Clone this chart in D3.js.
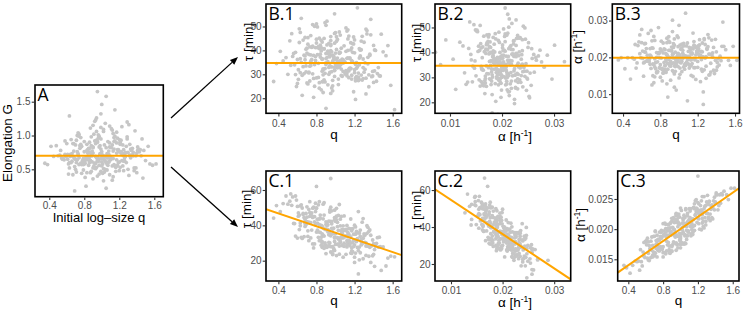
<!DOCTYPE html>
<html><head><meta charset="utf-8">
<script src="https://cdn.jsdelivr.net/npm/d3@7"></script>
<style>body{margin:0;background:#fff}svg{display:block}</style>
</head><body>
<svg id="chart" width="743" height="313"></svg>
<script>
// ---- data (read/estimated from the reference picture) ----
const q = [0.98,1.12,0.85,1.03,0.71,1.25,0.93,1.08,0.62,1.17,0.96,0.88,1.31,1.01,0.79,1.14,0.91,1.22,0.67,1.05,
0.94,1.19,0.83,1.36,0.99,0.74,1.09,0.87,1.27,0.58,1.02,0.95,1.15,0.81,1.43,0.90,1.06,0.76,1.20,0.97,
1.11,0.69,1.00,1.29,0.86,0.53,1.16,0.92,1.04,0.78,1.24,0.99,0.84,1.39,0.95,1.07,0.65,1.13,0.89,1.01,
0.82,1.21,0.97,0.73,1.10,0.90,1.33,1.04,0.60,0.96,1.18,0.87,1.02,0.77,1.26,0.93,1.48,0.99,0.70,1.08,
1.14,0.86,0.45,1.03,0.95,1.23,0.80,1.12,0.91,1.35,0.75,1.00,1.17,0.88,0.63,1.06,0.94,1.28,0.84,1.09,
0.98,0.72,1.20,1.01,0.89,1.41,0.79,1.13,0.96,0.56,1.07,0.93,1.25,0.85,1.04,0.68,1.16,0.99,1.32,0.82,
1.10,0.92,0.76,1.19,1.03,0.87,1.53,0.95,1.11,0.64,1.00,1.22,0.83,1.08,0.97,0.74,1.30,0.90,1.15,0.38,
1.05,0.81,1.24,0.94,1.37,0.86,1.02,0.71,1.18,0.99,0.89,1.12,0.78,1.45,0.93,1.06,0.66,1.21,0.97,1.01,
0.84,1.16,0.91,1.27,0.75,1.04,0.96,1.58,0.88,1.09,0.61,1.13,0.98,0.80,1.23,1.00,0.92,0.50,1.17,1.07,
0.94,1.34,0.83,1.02,0.73,1.20,0.90,1.11,0.99,0.86,1.40,0.77,1.05,0.95,1.26,0.69,1.14,0.87,1.00,1.62,
0.66,1.28,0.88,1.36,0.72,1.18,0.59,1.07,0.81,1.41,0.69,1.23,0.92,0.52,1.32,0.77,1.14,0.63,1.46,0.85,
1.25,0.70,1.09,0.57,1.38,0.80,1.20,0.67,0.97,1.33,0.74,1.16,0.61,1.29,0.89,1.44,0.71,1.03,0.55,1.22,
0.79,1.35,0.64,1.12,0.86,1.50,0.73,1.27,0.93,0.48,1.19,0.68,1.31,0.82,1.06,0.60,1.39,0.76,1.24,0.90,
1.30,0.62,1.15,0.78,1.42,0.87,0.54,1.21,0.70,1.34,0.95,0.65,1.26,0.83,1.55,0.74,1.10,0.42,1.37,0.99,
0.68,1.17,0.85,1.29,0.58,1.40,0.76,1.08,0.63,1.32,0.90,1.21,0.72,1.47,0.80,1.13,0.35,1.25,0.94,1.05];

const elongG = [0.72,0.55,0.81,0.64,0.93,0.48,0.69,0.77,0.58,1.05,0.62,0.85,0.41,0.71,0.66,0.97,0.53,0.74,0.88,0.60,
0.67,0.79,0.45,0.70,1.12,0.57,0.83,0.63,0.75,0.92,0.51,0.68,0.99,0.59,0.76,0.36,0.73,0.87,0.61,0.65,
0.82,0.54,0.71,0.95,0.63,0.78,0.47,1.21,0.69,0.58,0.86,0.66,0.74,0.52,0.91,0.70,0.60,1.03,0.77,0.44,
0.68,0.89,0.56,0.73,0.64,1.15,0.80,0.50,0.70,0.62,0.96,0.75,0.33,0.84,0.67,0.59,0.78,1.32,0.65,0.72,
0.57,0.81,0.69,0.46,0.90,0.63,0.76,1.08,0.55,0.71,0.85,0.61,0.74,0.98,0.52,0.67,1.26,0.60,0.79,0.42,
0.73,0.64,0.94,0.58,0.70,0.83,0.49,0.77,1.01,0.66,0.56,0.88,0.62,0.75,1.18,0.68,0.53,0.80,0.71,0.25,
0.65,0.92,0.59,0.78,0.69,0.45,0.84,0.63,1.10,0.72,0.55,0.76,0.87,0.61,0.99,0.67,0.50,0.74,1.38,0.57,
0.82,0.64,0.71,0.93,0.52,0.68,1.06,0.60,0.79,0.47,0.75,0.86,0.63,0.70,1.23,0.58,0.73,0.90,0.43,0.66,
0.77,0.54,1.02,0.69,0.81,0.62,0.96,0.56,0.72,1.14,0.65,0.39,0.85,0.61,0.74,1.46,0.59,0.70,0.89,0.67,
0.53,0.78,0.64,1.09,0.71,0.48,0.83,0.66,0.95,0.60,0.74,0.57,1.58,1.65,0.69,0.18,0.91,0.63,0.76,0.58,
0.62,0.84,0.47,0.75,1.00,0.56,0.69,0.91,0.38,0.78,0.66,1.13,0.52,0.71,0.87,0.44,0.80,0.60,0.95,0.68,
0.73,0.50,0.89,0.64,1.07,0.58,0.76,0.42,0.83,0.67,0.99,0.54,0.72,1.20,0.61,0.79,0.46,0.86,0.65,0.93,
0.57,0.81,0.69,0.34,0.90,0.63,1.04,0.74,0.51,0.85,0.60,0.77,1.16,0.66,0.49,0.88,0.70,0.97,0.55,0.82,
0.75,0.43,0.92,0.61,0.80,1.11,0.67,0.53,0.86,0.71,0.40,0.94,0.63,0.78,0.58,1.02,0.69,0.84,0.48,0.73,
0.88,0.64,0.56,0.98,0.72,0.45,0.83,0.61,1.29,0.70,0.52,0.87,0.76,0.37,0.91,0.66,0.59,0.79,1.06,0.22];

const tauB = [36.2,29.4,41.1,33.6,45.3,27.8,38.5,31.2,49.0,35.7,24.3,40.6,32.1,43.8,37.4,28.6,52.2,34.9,30.3,39.1,
33.3,42.7,26.5,37.9,31.6,46.2,35.0,22.4,40.3,29.9,36.8,44.1,32.6,38.2,27.1,50.5,34.4,41.8,30.7,35.5,
39.6,31.0,47.4,28.2,36.3,33.8,43.2,25.6,38.8,34.1,30.5,55.3,37.2,29.3,42.5,35.9,21.2,40.0,32.4,45.7,
34.6,27.3,38.0,41.5,30.1,36.6,48.3,33.0,26.2,39.4,35.2,31.8,44.6,20.4,37.7,32.9,46.8,29.1,40.9,36.0,
31.4,43.5,35.6,28.0,39.9,33.2,51.1,30.6,37.0,24.8,41.3,34.3,29.6,45.0,36.5,32.2,38.3,27.6,42.2,35.3,
37.5,30.9,44.4,33.7,26.8,40.2,35.8,48.6,31.1,38.7,29.2,42.9,34.0,23.5,39.3,36.1,32.5,47.1,28.4,41.6,
35.1,39.7,30.2,45.6,33.4,27.0,37.8,42.0,31.5,53.4,36.4,29.0,40.8,34.7,25.2,38.1,43.4,15.8,36.9,34.5,
33.9,41.2,28.8,37.3,46.5,31.3,35.4,26.0,39.2,43.0,30.4,36.7,50.1,32.8,38.6,29.5,44.3,34.2,27.5,40.4,
38.4,32.3,42.3,29.7,36.2,47.7,33.1,25.4,40.7,35.1,31.9,44.8,37.6,28.5,57.8,34.5,39.5,30.0,41.0,36.3,
30.8,37.1,45.1,32.7,27.2,39.0,34.8,49.4,31.7,36.5,42.1,28.3,35.7,22.0,40.1,33.5,46.0,29.8,38.9,15.2,
33.2,45.9,27.7,38.4,30.6,42.8,24.9,36.1,49.8,31.4,40.5,28.1,35.3,44.0,21.8,37.9,32.2,47.5,29.4,39.8,
36.8,26.4,41.9,34.0,29.0,44.7,31.9,38.0,23.1,46.9,33.7,40.2,27.9,36.4,51.6,30.3,42.6,25.7,37.5,32.5,
41.2,29.8,35.0,48.1,26.9,39.4,33.4,43.9,30.0,37.0,22.7,45.4,34.8,28.7,40.9,36.2,31.2,50.8,27.4,38.7,
30.9,43.3,36.6,25.0,40.0,32.3,47.0,28.5,38.9,34.4,45.8,29.6,37.3,24.2,42.0,35.5,31.0,39.6,53.0,33.0,
37.7,28.0,44.2,32.8,39.2,26.6,41.5,35.9,30.7,48.9,34.1,19.5,38.3,29.3,43.1,36.9,27.0,40.7,33.6,46.4];

const alphaB = [.0203,.0176,.0221,.0189,.0245,.0162,.0208,.0231,.0149,.0196,.0214,.0183,.0262,.0171,.0199,.0226,.0138,.0205,.0190,.0238,
.0185,.0217,.0158,.0201,.0229,.0174,.0193,.0252,.0166,.0210,.0187,.0119,.0223,.0198,.0179,.0241,.0204,.0160,.0213,.0192,
.0227,.0181,.0206,.0143,.0195,.0235,.0172,.0218,.0200,.0281,.0168,.0211,.0186,.0249,.0155,.0202,.0224,.0178,.0194,.0233,
.0170,.0209,.0191,.0257,.0182,.0219,.0153,.0197,.0240,.0175,.0207,.0128,.0222,.0188,.0201,.0164,.0230,.0196,.0273,.0184,
.0212,.0159,.0199,.0236,.0177,.0204,.0146,.0220,.0189,.0247,.0169,.0208,.0193,.0092,.0215,.0180,.0227,.0198,.0163,.0239,
.0190,.0225,.0173,.0205,.0256,.0186,.0212,.0151,.0197,.0232,.0178,.0301,.0202,.0167,.0219,.0195,.0243,.0175,.0209,.0136,
.0216,.0183,.0200,.0228,.0161,.0207,.0192,.0250,.0171,.0214,.0188,.0234,.0157,.0203,.0111,.0196,.0222,.0181,.0266,.0199,
.0174,.0218,.0194,.0237,.0165,.0210,.0185,.0226,.0140,.0201,.0244,.0179,.0213,.0191,.0270,.0168,.0206,.0232,.0187,.0154,
.0223,.0197,.0176,.0248,.0186,.0211,.0162,.0230,.0202,.0082,.0217,.0193,.0258,.0180,.0206,.0144,.0228,.0199,.0172,.0320,
.0210,.0184,.0239,.0196,.0131,.0221,.0178,.0203,.0254,.0189,.0215,.0160,.0231,.0198,.0072,.0224,.0183,.0207,.0287,.0192,
.0191,.0235,.0168,.0212,.0150,.0227,.0199,.0183,.0244,.0174,.0206,.0134,.0218,.0195,.0253,.0162,.0209,.0187,.0230,.0178,
.0215,.0170,.0201,.0242,.0156,.0223,.0189,.0265,.0181,.0209,.0147,.0233,.0197,.0176,.0219,.0203,.0125,.0226,.0185,.0248,
.0172,.0207,.0238,.0194,.0163,.0221,.0180,.0251,.0199,.0141,.0214,.0188,.0229,.0167,.0204,.0276,.0192,.0158,.0216,.0183,
.0225,.0185,.0148,.0210,.0196,.0240,.0171,.0218,.0203,.0160,.0233,.0190,.0106,.0212,.0178,.0246,.0199,.0169,.0227,.0208,
.0194,.0231,.0177,.0202,.0261,.0165,.0213,.0186,.0237,.0152,.0200,.0224,.0182,.0296,.0170,.0211,.0193,.0239,.0161,.0205];

const alphaC = [.0210,.0192,.0190,.0195,.0196,.0210,.0193,.0226,.0152,.0224,.0174,.0202,.0226,.0231,.0167,.0217,.0174,.0231,.0187,.0177,
.0188,.0234,.0159,.0240,.0220,.0165,.0195,.0198,.0254,.0155,.0210,.0176,.0216,.0197,.0232,.0213,.0176,.0182,.0218,.0210,
.0230,.0162,.0184,.0239,.0188,.0132,.0242,.0179,.0210,.0195,.0199,.0208,.0180,.0253,.0223,.0189,.0168,.0204,.0211,.0200,
.0190,.0209,.0221,.0154,.0215,.0163,.0246,.0205,.0180,.0188,.0249,.0172,.0199,.0188,.0204,.0211,.0257,.0193,.0156,.0212,
.0204,.0208,.0140,.0218,.0177,.0229,.0209,.0189,.0203,.0233,.0183,.0169,.0234,.0191,.0149,.0232,.0187,.0238,.0164,.0210,
.0225,.0168,.0231,.0175,.0196,.0257,.0167,.0215,.0216,.0139,.0198,.0217,.0224,.0198,.0175,.0173,.0234,.0188,.0241,.0210,
.0216,.0177,.0195,.0211,.0215,.0166,.0257,.0225,.0205,.0173,.0187,.0224,.0208,.0189,.0204,.0171,.0245,.0164,.0236,.0136,
.0189,.0191,.0247,.0189,.0217,.0200,.0203,.0160,.0235,.0175,.0195,.0204,.0198,.0257,.0191,.0234,.0153,.0217,.0212,.0192,
.0187,.0198,.0217,.0234,.0164,.0223,.0190,.0268,.0160,.0213,.0174,.0199,.0220,.0171,.0239,.0180,.0200,.0146,.0247,.0204,
.0212,.0225,.0195,.0177,.0176,.0288,.0173,.0219,.0187,.0207,.0245,.0171,.0219,.0165,.0228,.0188,.0191,.0197,.0235,.0268,
.0180,.0219,.0209,.0219,.0175,.0229,.0153,.0183,.0189,.0260,.0156,.0225,.0219,.0147,.0217,.0187,.0194,.0179,.0243,.0174,
.0218,.0188,.0197,.0162,.0247,.0161,.0244,.0165,.0169,.0246,.0181,.0206,.0181,.0213,.0190,.0239,.0197,.0218,.0146,.0200,
.0188,.0239,.0148,.0234,.0178,.0263,.0190,.0202,.0199,.0147,.0230,.0154,.0256,.0161,.0209,.0179,.0232,.0164,.0232,.0218,
.0226,.0185,.0197,.0185,.0257,.0161,.0166,.0226,.0161,.0214,.0226,.0167,.0213,.0201,.0249,.0183,.0234,.0127,.0236,.0182,
.0157,.0223,.0201,.0207,.0178,.0243,.0168,.0222,.0160,.0220,.0171,.0242,.0181,.0259,.0154,.0209,.0140,.0254,.0195,.0191];

const tauC = [38.4,31.3,40.0,45.6,33.7,35.7,28.4,36.9,45.8,27.3,48.2,33.9,34.6,22.9,52.5,30.4,41.5,36.5,33.6,39.7,
34.6,35.0,53.4,27.6,25.8,46.5,37.3,28.2,28.9,56.6,29.4,42.2,31.0,43.5,29.8,28.3,45.0,29.5,40.1,35.2,
37.0,40.3,42.7,21.1,39.5,57.8,24.3,40.3,28.3,41.9,47.8,33.3,45.8,22.8,34.1,28.6,49.8,34.6,28.9,49.6,
36.3,39.1,23.5,47.2,34.0,37.7,35.5,32.8,50.7,38.3,30.1,34.4,41.7,27.2,37.3,42.4,14.5,32.9,50.5,32.9,
38.2,27.6,52.3,32.2,50.3,27.5,36.2,27.8,39.8,36.6,37.3,42.3,24.1,45.8,41.3,33.3,30.0,41.8,44.0,28.1,
27.0,49.0,28.9,43.1,27.6,26.3,47.8,30.4,42.1,41.1,37.5,30.3,35.7,28.8,51.8,41.0,33.4,44.4,23.0,33.2,
33.5,36.4,44.5,31.3,37.2,52.0,17.0,24.9,37.7,33.2,44.3,30.8,31.3,39.7,23.8,46.4,34.1,37.7,29.5,51.2,
43.5,37.3,12.5,48.8,34.4,30.1,39.3,41.4,38.1,30.9,37.7,39.9,29.5,27.7,34.7,36.6,46.7,31.7,28.0,45.2,
36.0,43.6,27.6,30.8,47.1,23.7,40.9,22.6,52.8,29.9,47.0,36.0,25.7,62.0,32.5,35.2,37.5,52.0,25.5,35.5,
35.5,28.2,43.6,33.0,53.4,22.0,40.5,23.6,43.3,35.1,23.6,50.3,31.0,66.5,24.5,41.8,34.9,43.7,29.2,22.2,
46.1,29.6,27.0,37.4,41.8,25.1,54.3,37.7,41.3,16.8,46.7,32.1,28.2,53.7,30.1,49.9,31.3,39.7,33.3,31.2,
27.7,42.1,45.3,41.0,28.4,49.9,19.0,44.4,37.9,39.8,32.9,38.0,45.2,32.7,30.1,33.0,36.9,29.2,56.1,35.7,
40.4,22.5,51.6,29.0,30.7,27.8,45.1,32.0,36.7,56.6,28.0,39.4,30.4,51.6,32.8,32.8,31.7,49.7,25.7,24.0,
35.2,37.6,28.6,44.9,28.2,38.5,51.3,24.3,44.6,38.9,27.9,32.6,33.8,40.4,21.5,41.5,37.4,47.7,19.0,48.6,
43.3,36.9,33.3,43.8,33.9,29.6,45.1,22.0,51.0,28.3,42.0,35.0,31.3,28.0,49.6,33.5,44.1,20.5,47.5,30.2];

// fitted regression lines (intercept, slope) per panel A, B.1, B.2, B.3, C.1, C.2, C.3
const fitIntercepts = [0.70, 34.7, 34.7, 0.0199, 54.1, 73.2, 0.0100];
const fitSlopes     = [0,    0,    0,    0,      -18.25, -1852, 0.01004];

// tick values
const qTicks = [0.4, 0.8, 1.2, 1.6];
const gTicks = [0.5, 1.0, 1.5];
const tauTicksB = [20, 30, 40, 50];
const tauTicksC = [20, 40, 60];
const alphaTicks = [0.01, 0.02, 0.03];
const alphaTicksC3 = [0.015, 0.020, 0.025];

// ---- layout ----
const TAU = "τ [min]", ALPHA = "ALPHA", QLAB = "q";
const panels = [
  {label:"A",   xs:q,      ys:elongG, frame:[35,163.3,85,196.7],  xd:[0.237,1.703], yd:[0.095,1.747], xt:qTicks, yt:gTicks, xf:".1f", yf:".1f", xpad:1.9,
   xTitle:{t:"Initial log–size q", x:99, y:222, fs:13}, yTitle:{t:"Elongation G", x:12, y:143}},
  {label:"B.1", xs:q,      ys:tauB,   frame:[266,401.7,4,113.3],  xd:[0.27,1.695],  yd:[13.7,59.4],   xt:qTicks, yt:tauTicksB, xf:".1f", yf:"d", xpad:3.4,
   xTitle:{t:QLAB, x:334, y:138.5}, yTitle:{t:TAU, x:252.5, y:42}},
  {label:"B.2", xs:alphaB, ys:tauB,   frame:[435,570.7,4,113.3],  xd:[0.00712,0.0332], yd:[15.6,59.4], xt:alphaTicks, yt:tauTicksB, xf:".2f", yf:"d", xpad:3.0,
   xTitle:{t:ALPHA, x:515, y:141}, yTitle:{t:TAU, x:421, y:43}},
  {label:"B.3", xs:q,      ys:alphaB, frame:[612.3,739.5,4,113.3], xd:[0.285,1.648], yd:[0.0048,0.0345], xt:qTicks, yt:alphaTicks, xf:".1f", yf:".2f", xpad:3.4,
   xTitle:{t:QLAB, x:676, y:138.5}, yTitle:{t:ALPHA, x:582, y:47}},
  {label:"C.1", xs:q,      ys:tauC,   frame:[266,401.7,171,281],  xd:[0.27,1.695],  yd:[8.5,70.75],   xt:qTicks, yt:tauTicksC, xf:".1f", yf:"d", xpad:2.2,
   xTitle:{t:QLAB, x:334, y:305}, yTitle:{t:TAU, x:251, y:209}},
  {label:"C.2", xs:alphaC, ys:tauC,   frame:[435,570.7,171,281],  xd:[0.0069,0.0332], yd:[10.8,70.3], xt:alphaTicks, yt:tauTicksC, xf:".2f", yf:"d", xpad:2.2,
   xTitle:{t:ALPHA, x:515, y:307}, yTitle:{t:TAU, x:421, y:210}},
  {label:"C.3", xs:q,      ys:alphaC, frame:[617.7,739,171,281],  xd:[0.278,1.672], yd:[0.0114,0.02964], xt:qTicks, yt:alphaTicksC3, xf:".1f", yf:".3f", xpad:2.2,
   xTitle:{t:QLAB, x:678.4, y:305}, yTitle:{t:ALPHA, x:585, y:225}}
];

const svg = d3.select("#chart");
const defs = svg.append("defs");
const TICKFONT = "'Liberation Sans', Arial, sans-serif";

function writeTitle(sel, t) {
  if (t === ALPHA) {
    sel.append("tspan").text("α [h");
    sel.append("tspan").attr("dy", -5).attr("font-size", 8.5).text("-1");
    sel.append("tspan").attr("dy", 5).text("]");
  } else sel.text(t);
}

panels.forEach((p, i) => {
  const [x0, x1, y0, y1] = p.frame;
  const xS = d3.scaleLinear().domain(p.xd).range([x0, x1]);
  const yS = d3.scaleLinear().domain(p.yd).range([y1, y0]);
  const g = svg.append("g");

  defs.append("clipPath").attr("id", "clip" + i)
    .append("rect").attr("x", x0).attr("y", y0).attr("width", x1 - x0).attr("height", y1 - y0);

  const plot = g.append("g").attr("clip-path", `url(#clip${i})`);
  plot.selectAll("circle").data(d3.range(p.xs.length)).join("circle")
    .attr("cx", k => xS(p.xs[k])).attr("cy", k => yS(p.ys[k]))
    .attr("r", 1.9).attr("fill", "#c6c6c6");

  const b = fitIntercepts[i], m = fitSlopes[i];
  const line = d3.line().x(d => xS(d)).y(d => yS(b + m * d));
  plot.append("path").datum(p.xd).attr("d", line)
    .attr("fill", "none").attr("stroke", "#FFA500").attr("stroke-width", 2);

  g.append("rect").attr("x", x0).attr("y", y0).attr("width", x1 - x0).attr("height", y1 - y0)
    .attr("fill", "none").attr("stroke", "#000").attr("stroke-width", 1.6);

  const xAx = g.append("g").attr("transform", `translate(0,${y1 + 0.8})`)
    .call(d3.axisBottom(xS).tickValues(p.xt).tickFormat(d3.format(p.xf)).tickSize(2.5).tickPadding(p.xpad));
  const yAx = g.append("g").attr("transform", `translate(${x0 - 0.8},0)`)
    .call(d3.axisLeft(yS).tickValues(p.yt).tickFormat(d3.format(p.yf)).tickSize(2.5).tickPadding(1.2));
  [xAx, yAx].forEach(ax => {
    ax.select(".domain").remove();
    ax.selectAll(".tick line").attr("stroke", "#333").attr("stroke-width", 1.1);
    ax.selectAll(".tick text").attr("fill", "#4d4d4d").attr("font-size", 10).attr("font-family", TICKFONT);
  });

  g.append("text").attr("x", x0 + 2.5).attr("y", y0 + 16.3)
    .attr("font-family", "'Open Sans', sans-serif").attr("font-size", 17.5).attr("fill", "#000")
    .text(p.label);

  const xt = g.append("text").attr("x", p.xTitle.x).attr("y", p.xTitle.y)
    .attr("text-anchor", "middle").attr("font-family", TICKFONT).attr("font-size", p.xTitle.fs || 13.5).attr("fill", "#000");
  writeTitle(xt, p.xTitle.t);

  const yt = g.append("text").attr("transform", `translate(${p.yTitle.x},${p.yTitle.y}) rotate(-90)`)
    .attr("text-anchor", "middle").attr("font-family", TICKFONT).attr("font-size", 13.5).attr("fill", "#000");
  writeTitle(yt, p.yTitle.t);
});

// arrows from panel A to rows B and C
const arrows = [[[171, 118], [238, 57]], [[171, 167], [238, 227]]];
arrows.forEach(([a, bp]) => {
  const ang = Math.atan2(bp[1] - a[1], bp[0] - a[0]);
  const L = 8, W = 3.2;
  const base = [bp[0] - L * Math.cos(ang), bp[1] - L * Math.sin(ang)];
  svg.append("line").attr("x1", a[0]).attr("y1", a[1]).attr("x2", base[0]).attr("y2", base[1])
    .attr("stroke", "#000").attr("stroke-width", 1.3);
  const pts = [bp,
    [base[0] + W * Math.sin(ang), base[1] - W * Math.cos(ang)],
    [base[0] - W * Math.sin(ang), base[1] + W * Math.cos(ang)]];
  svg.append("polygon").attr("points", pts.map(d => d.join(",")).join(" ")).attr("fill", "#000");
});
</script>
</body></html>
